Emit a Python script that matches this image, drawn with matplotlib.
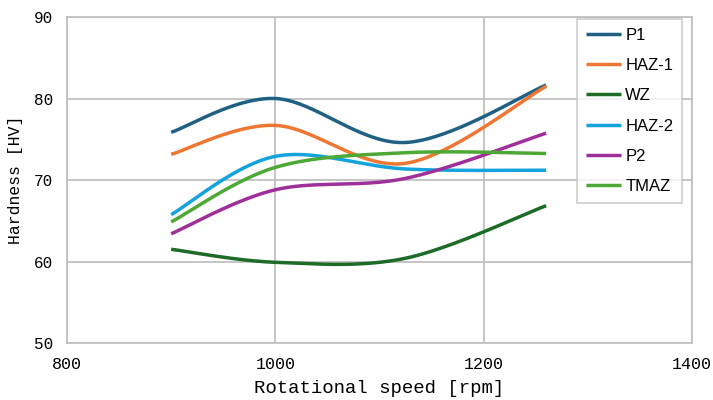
import numpy as np
import matplotlib
matplotlib.use("Agg")
import matplotlib.pyplot as plt

speeds = [900, 1000, 1125, 1260]
series_names = ["P1", "HAZ-1", "WZ", "HAZ-2", "P2", "TMAZ"]
p1 = [75.85, 80.0, 74.6, 81.65]
haz1 = [73.15, 76.7, 72.05, 81.5]
wz = [61.5, 59.9, 60.4, 66.85]
haz2 = [65.75, 72.9, 71.35, 71.2]
p2 = [63.4, 68.8, 70.2, 75.75]
tmaz = [64.85, 71.55, 73.35, 73.25]
colors = ["#1f6083", "#ee7733", "#1d6b27", "#14a3dd", "#a03099", "#4ea835"]


def smooth(x, y, n=60):
    x = np.asarray(x, float)
    y = np.asarray(y, float)
    px = np.concatenate([[x[0]], x, [x[-1]]])
    py = np.concatenate([[y[0]], y, [y[-1]]])
    xs, ys = [], []
    t = np.linspace(0, 1, n)
    for i in range(1, len(px) - 2):
        p0 = np.array([px[i], py[i]])
        p3 = np.array([px[i + 1], py[i + 1]])
        c1 = p0 + (np.array([px[i + 1], py[i + 1]]) - np.array([px[i - 1], py[i - 1]])) / 6
        c2 = p3 - (np.array([px[i + 2], py[i + 2]]) - np.array([px[i], py[i]])) / 6
        b = ((1 - t) ** 3)[:, None] * p0 + (3 * (1 - t) ** 2 * t)[:, None] * c1 \
            + (3 * (1 - t) * t ** 2)[:, None] * c2 + (t ** 3)[:, None] * p3
        xs.append(b[:, 0])
        ys.append(b[:, 1])
    return np.concatenate(xs), np.concatenate(ys)


fig = plt.figure(figsize=(7.13, 4.0), dpi=100)
ax = fig.add_axes([67 / 713, 1 - 343 / 400, (692 - 67) / 713, (343 - 17) / 400])

for name, vals, c in zip(series_names, [p1, haz1, wz, haz2, p2, tmaz], colors):
    sx, sy = smooth(speeds, vals)
    ax.plot(sx, sy, color=c, lw=2.5, label=name, solid_capstyle="butt")

ax.set_xlim(800, 1400)
ax.set_ylim(50, 90)
ax.set_xticks([800, 1000, 1200, 1400])
ax.set_yticks([50, 60, 70, 80, 90])
ax.grid(True, color="#c0c0c0", lw=1.3)
ax.set_axisbelow(True)
for s in ax.spines.values():
    s.set_color("#c0c0c0")
    s.set_linewidth(1.3)
ax.tick_params(length=0, pad=10)
for lab in ax.get_xticklabels():
    lab.set_fontfamily("Liberation Mono")
    lab.set_fontsize(12)
for lab in ax.get_yticklabels():
    lab.set_fontfamily("Liberation Mono")
    lab.set_fontsize(11.5)
ax.set_xlabel("Rotational speed [rpm]", fontfamily="Liberation Mono", fontsize=13.7, labelpad=6)
ax.set_ylabel("Hardness [HV]", fontfamily="Liberation Mono", fontsize=11.8, labelpad=8)

leg = ax.legend(loc="upper right", bbox_to_anchor=(682 / 713, 1 - 19 / 400),
                bbox_transform=fig.transFigure,
                prop={"family": "Liberation Sans", "size": 12},
                frameon=True, fancybox=False, handlelength=2.1, handletextpad=0.25,
                labelspacing=0.92, borderpad=0.52, borderaxespad=0)
leg.get_frame().set_edgecolor("#c0c0c0")
leg.get_frame().set_linewidth(1.2)

fig.savefig("out.png", dpi=100)
